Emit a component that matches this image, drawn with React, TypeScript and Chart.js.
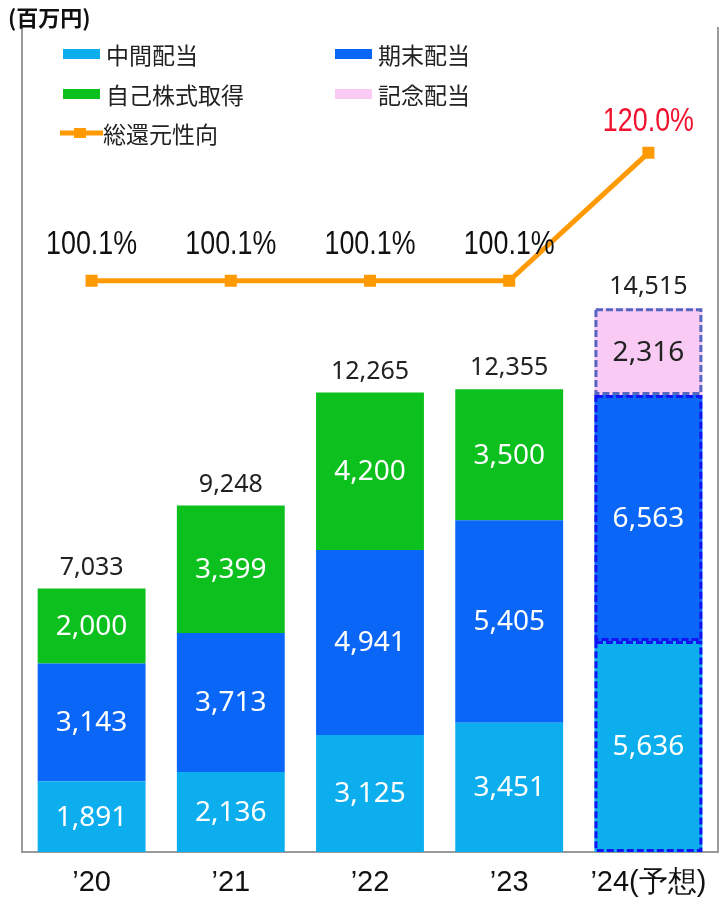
import { useEffect, useRef } from "react";
import { Chart, registerables } from "chart.js";

Chart.register(...registerables);

const categories = ["’20", "’21", "’22", "’23", "’24(予想)"];
const interimDividend: (number | null)[] = [1891, 2136, 3125, 3451, 5636];
const yearEndDividend: (number | null)[] = [3143, 3713, 4941, 5405, 6563];
const shareBuyback: (number | null)[] = [2000, 3399, 4200, 3500, null];
const commemorativeDividend: (number | null)[] = [null, null, null, null, 2316];
const totals = [7033, 9248, 12265, 12355, 14515];
const totalReturnRatio = [100.1, 100.1, 100.1, 100.1, 120.0];
const seriesNames = ["中間配当", "期末配当", "自己株式取得", "記念配当", "総還元性向"];
const unitLabel = "(百万円)";

const COLORS = {
  interim: "#0DAEEE",
  yearEnd: "#0A66F6",
  buyback: "#0CC01E",
  commem: "#F8CAF4",
  ratio: "#FF9A05",
  axis: "#9A9A9A",
};

const SANS = "'Liberation Sans', Arial, sans-serif";
const NUMFONT = "'Noto Sans', 'Open Sans', sans-serif";
const CJK = "'Noto Sans CJK JP', 'Noto Sans', sans-serif";

const fmt = (v: number) => v.toLocaleString("en-US");

function narrowText(ctx: CanvasRenderingContext2D, text: string, x: number, y: number, sx: number) {
  ctx.save();
  ctx.translate(x, y);
  ctx.scale(sx, 1);
  ctx.fillText(text, 0, 0);
  ctx.restore();
}

const labelsPlugin = {
  id: "customLabels",
  afterDatasetsDraw(chart: any) {
    const ctx = chart.ctx as CanvasRenderingContext2D;
    const yScale = chart.scales.y;
    const last = categories.length - 1;
    ctx.save();

    // dashed outline of forecast bar
    [0, 1, 3].forEach((di) => {
      const v = chart.data.datasets[di].data[last];
      if (v == null) return;
      const el = chart.getDatasetMeta(di).data[last];
      const { x, y, base, width } = el.getProps(["x", "y", "base", "width"], true);
      ctx.setLineDash([7, 3]);
      ctx.lineWidth = 3;
      ctx.strokeStyle = di === 3 ? "#5468C2" : "#1414F2";
      ctx.strokeRect(x - width / 2 + 1.5, y + 1.5, width - 3, base - y - 3);
    });
    ctx.setLineDash([]);

    ctx.textAlign = "center";
    ctx.textBaseline = "middle";

    // segment labels
    for (let di = 0; di < 4; di++) {
      const meta = chart.getDatasetMeta(di);
      const data = chart.data.datasets[di].data;
      meta.data.forEach((el: any, j: number) => {
        const v = data[j];
        if (v == null) return;
        const { x, y, base } = el.getProps(["x", "y", "base"], true);
        ctx.font = `28px ${NUMFONT}`;
        ctx.fillStyle = di === 3 ? "#222" : "#fff";
        ctx.fillText(fmt(v), x, (y + base) / 2 + 1);
      });
    }

    // totals
    const meta0 = chart.getDatasetMeta(0);
    totals.forEach((t, j) => {
      const x = meta0.data[j].x;
      const y = yScale.getPixelForValue(t) - 21;
      ctx.font = `25px ${NUMFONT}`;
      ctx.fillStyle = "#222";
      ctx.fillText(fmt(t), x, y);
    });

    // ratio labels
    const meta4 = chart.getDatasetMeta(4);
    meta4.data.forEach((pt: any, j: number) => {
      const v = totalReturnRatio[j];
      ctx.font = `34px ${SANS}`;
      ctx.fillStyle = j === last ? "#F0122E" : "#111";
      narrowText(ctx, v.toFixed(1) + "%", pt.x, pt.y - (j === last ? 31 : 36), 0.79);
    });

    ctx.restore();
  },
  afterDraw(chart: any) {
    const ctx = chart.ctx as CanvasRenderingContext2D;
    ctx.save();
    // unit label
    ctx.font = `bold 22px ${CJK}`;
    ctx.fillStyle = "#111";
    ctx.textAlign = "left";
    ctx.textBaseline = "middle";
    ctx.fillText(unitLabel, 8, 18);

    // legend
    const items = [
      { name: seriesNames[0], color: COLORS.interim, x: 63, y: 54, type: "box" },
      { name: seriesNames[1], color: COLORS.yearEnd, x: 335, y: 54, type: "box" },
      { name: seriesNames[2], color: COLORS.buyback, x: 63, y: 94, type: "box" },
      { name: seriesNames[3], color: COLORS.commem, x: 335, y: 94, type: "box" },
      { name: seriesNames[4], color: COLORS.ratio, x: 60, y: 133, type: "line" },
    ];
    items.forEach((it) => {
      ctx.fillStyle = it.color;
      if (it.type === "box") {
        ctx.fillRect(it.x, it.y - 5, 37, 10);
      } else {
        ctx.fillRect(it.x, it.y - 2.5, 43, 5);
        ctx.fillRect(it.x + 14, it.y - 5, 12, 10);
      }
      ctx.font = `23px ${CJK}`;
      ctx.fillStyle = "#222";
      ctx.fillText(it.name, it.x + 43, it.y + 1);
    });
    ctx.restore();
  },
};

export default function App() {
  const ref = useRef<HTMLCanvasElement | null>(null);
  useEffect(() => {
    document.body.style.margin = "0";
    if (!ref.current) return;
    const chart = new Chart(ref.current, {
      type: "bar",
      data: {
        labels: categories,
        datasets: [
          { label: seriesNames[0], data: interimDividend, backgroundColor: COLORS.interim, stack: "s", order: 2 },
          { label: seriesNames[1], data: yearEndDividend, backgroundColor: COLORS.yearEnd, stack: "s", order: 2 },
          { label: seriesNames[2], data: shareBuyback, backgroundColor: COLORS.buyback, stack: "s", order: 2 },
          { label: seriesNames[3], data: commemorativeDividend, backgroundColor: COLORS.commem, stack: "s", order: 2 },
          {
            type: "line",
            label: seriesNames[4],
            data: totalReturnRatio,
            yAxisID: "y1",
            borderColor: COLORS.ratio,
            backgroundColor: COLORS.ratio,
            borderWidth: 5,
            pointStyle: "rect",
            pointRadius: 5,
            tension: 0,
            order: 0,
          } as any,
        ],
      },
      options: {
        responsive: false,
        animation: false,
        datasets: { bar: { barPercentage: 0.775, categoryPercentage: 1 } },
        layout: { padding: { left: 22, right: 8, top: 28, bottom: 0 } },
        plugins: { legend: { display: false }, tooltip: { enabled: false } },
        scales: {
          x: {
            stacked: true,
            grid: { display: false, drawTicks: false },
            border: { display: true, color: COLORS.axis, width: 2 },
            ticks: { color: "#111", font: { family: SANS, size: 29 }, padding: 14 },
            afterFit: (s: any) => { s.height = 45; },
          },
          y: {
            stacked: true,
            min: 0,
            max: 22000,
            grid: { display: false, drawTicks: false },
            ticks: { display: false },
            border: { display: true, color: COLORS.axis, width: 2 },
            afterFit: (s: any) => { s.width = 0; },
          },
          y1: {
            position: "right",
            min: 11.3,
            max: 139.4,
            grid: { display: false, drawTicks: false },
            ticks: { display: false },
            border: { display: true, color: COLORS.axis, width: 2 },
            afterFit: (s: any) => { s.width = 0; },
          },
        },
      } as any,
      plugins: [labelsPlugin],
    });
    return () => chart.destroy();
  }, []);
  return (
    <div style={{ width: 728, height: 897 }}>
      <canvas ref={ref} width={728} height={897} style={{ display: "block" }} />
    </div>
  );
}
